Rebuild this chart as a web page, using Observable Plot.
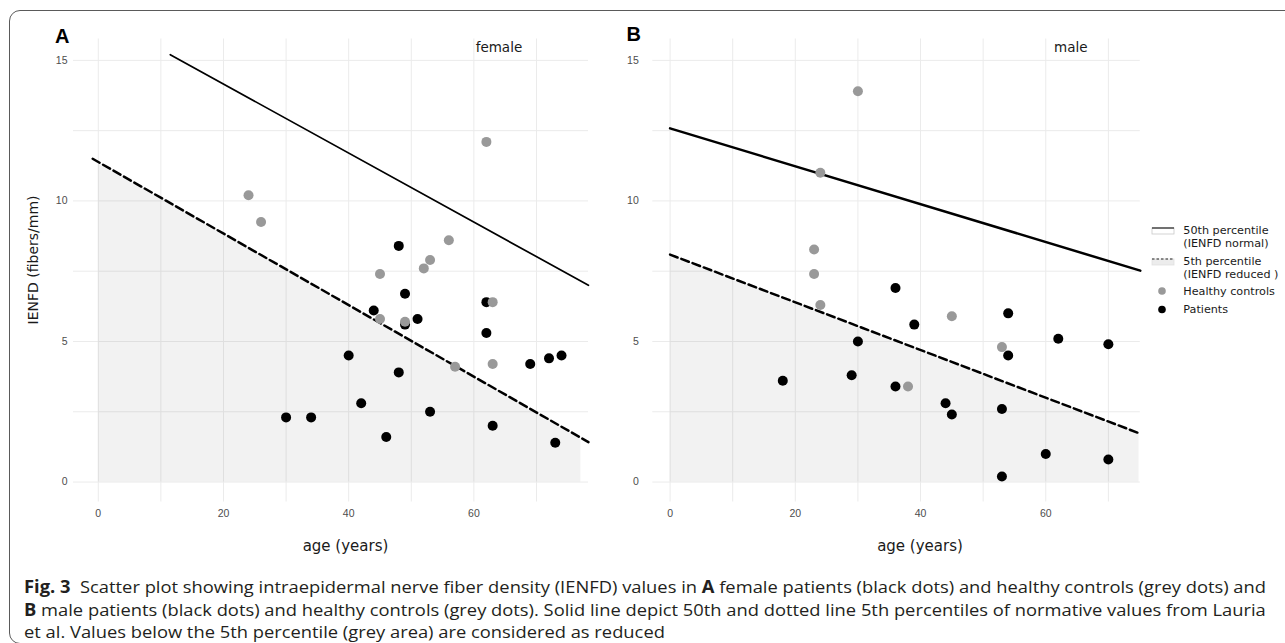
<!DOCTYPE html>
<html><head><meta charset="utf-8">
<script src="https://cdn.jsdelivr.net/npm/d3@7"></script>
<script src="https://cdn.jsdelivr.net/npm/@observablehq/plot@0.6"></script>
<style>
body{margin:0;background:#fff;width:1285px;height:643px;overflow:hidden;position:relative;}
#frame{position:absolute;left:9px;top:10px;width:1300px;height:634px;border:1.5px solid #5a5a5a;border-radius:11px;box-sizing:border-box;}
.abs{position:absolute;}
.cap{position:absolute;left:24px;white-space:nowrap;font-family:"Open Sans","Noto Sans",sans-serif;font-size:17px;color:#231f20;transform-origin:0 50%;line-height:20px;}
.cap b{font-weight:700;}
#overlay{position:absolute;left:0;top:0;pointer-events:none;}
</style></head><body>
<div id="frame"></div>
<div id="panelA" class="abs" style="left:0;top:0"></div>
<div id="panelB" class="abs" style="left:600px;top:0"></div>
<svg id="overlay" width="1285" height="643"></svg>
<div class="cap" id="cap1" style="top:577px"><b>Fig. 3</b>&nbsp; Scatter plot showing intraepidermal nerve fiber density (IENFD) values in <b>A</b> female patients (black dots) and healthy controls (grey dots) and</div>
<div class="cap" id="cap2" style="top:600px"><b>B</b> male patients (black dots) and healthy controls (grey dots). Solid line depict 50th and dotted line 5th percentiles of normative values from Lauria</div>
<div class="cap" id="cap3" style="top:622px">et al. Values below the 5th percentile (grey area) are considered as reduced</div>
<script>
// ---------- data ----------
const femalePatientsAge   = [48, 49, 62, 44, 51, 49, 62, 40, 69, 72, 74, 48, 42, 30, 34, 53, 46, 63, 73];
const femalePatientsIENFD = [8.4, 6.7, 6.4, 6.1, 5.8, 5.6, 5.3, 4.5, 4.2, 4.4, 4.5, 3.9, 2.8, 2.3, 2.3, 2.5, 1.6, 2.0, 1.4];
const femaleControlsAge   = [24, 26, 62, 56, 53, 52, 45, 63, 45, 49, 57, 63];
const femaleControlsIENFD = [10.2, 9.25, 12.1, 8.6, 7.9, 7.6, 7.4, 6.4, 5.8, 5.7, 4.1, 4.2];
const malePatientsAge     = [36, 54, 39, 30, 62, 70, 54, 18, 29, 36, 44, 45, 53, 60, 70, 53];
const malePatientsIENFD   = [6.9, 6.0, 5.6, 5.0, 5.1, 4.9, 4.5, 3.6, 3.8, 3.4, 2.8, 2.4, 2.6, 1.0, 0.8, 0.2];
const maleControlsAge     = [30, 24, 23, 23, 24, 45, 53, 38];
const maleControlsIENFD   = [13.9, 11.0, 8.27, 7.4, 6.3, 5.9, 4.8, 3.4];

// normative percentile lines (endpoints)
const p50FemaleAge = [11.5, 78.3],  p50FemaleIENFD = [15.2, 7.0];
const p5FemaleAge  = [-0.9, 78.3],  p5FemaleIENFD  = [11.5, 1.42];
const reducedFemaleAge = [0, 77.1], reducedFemaleIENFD = [11.38, 1.58];
const p50MaleAge = [0, 75.1],       p50MaleIENFD = [12.58, 7.52];
const p5MaleAge  = [0, 75.1],       p5MaleIENFD  = [8.09, 1.72];
const reducedMaleAge = [0, 74.9],   reducedMaleIENFD = [8.09, 1.74];

const xTicks = [0, 20, 40, 60];
const xGrid  = [0, 10, 20, 30, 40, 50, 60, 70];
const yTicks = [0, 5, 10, 15];
const yGrid  = [0, 2.5, 5, 7.5, 10, 12.5, 15];
const panelLabels = ["A", "B"];
const sexLabels = ["female", "male"];
const legendLabels = [["50th percentile", "(IENFD normal)"], ["5th percentile", "(IENFD reduced )"], ["Healthy controls"], ["Patients"]];
const xTitle = "age (years)";
const yTitle = "IENFD (fibers/mm)";

const zip = (a, b) => a.map((v, i) => ({age: v, v: b[i]}));

function panel({width, mL, mR, xDomain, yPad, patients, controls, p50, p5, shade, label, p50Width}) {
  return Plot.plot({
    width, height: 530,
    marginLeft: mL, marginRight: mR, marginTop: 38.5, marginBottom: 28.5,
    x: {domain: xDomain, ticks: xTicks, tickSize: 0, tickPadding: 8, label: null},
    y: {domain: [-0.71, 15.76], ticks: yTicks, tickSize: 0, tickPadding: yPad, label: null},
    style: {fontFamily: "'Liberation Sans', Arial, sans-serif", fontSize: "10.5px", color: "#4d4d4d", background: "transparent", overflow: "visible"},
    marks: [
      Plot.ruleX(xGrid, {stroke: "#ebebeb", strokeWidth: 1}),
      Plot.ruleY(yGrid, {stroke: "#ebebeb", strokeWidth: 1}),
      Plot.areaY(shade, {x: "age", y: "v", fill: "#000", fillOpacity: 0.05}),
      Plot.line(p5, {x: "age", y: "v", stroke: "#000", strokeWidth: 2.5, strokeDasharray: "8,4"}),
      Plot.line(p50, {x: "age", y: "v", stroke: "#000", strokeWidth: p50Width}),
      Plot.dot(patients, {x: "age", y: "v", r: 5, fill: "#000"}),
      Plot.dot(controls, {x: "age", y: "v", r: 5, fill: "#999999"}),
      Plot.text([label], {x: 64, y: 15.45, text: d => d, fontSize: 13.5, fontFamily: "DejaVu Sans", fill: "#1a1a1a"})
    ]
  });
}

document.getElementById("panelA").appendChild(panel({
  width: 600, mL: 73, mR: 12, xDomain: [-3.96, 78.31], yPad: 6,
  patients: zip(femalePatientsAge, femalePatientsIENFD),
  controls: zip(femaleControlsAge, femaleControlsIENFD),
  p50: zip(p50FemaleAge, p50FemaleIENFD), p5: zip(p5FemaleAge, p5FemaleIENFD),
  shade: zip(reducedFemaleAge, reducedFemaleIENFD), label: sexLabels[0], p50Width: 1.7
}));
document.getElementById("panelB").appendChild(panel({
  width: 560, mL: 52.3, mR: 20.2, xDomain: [-2.76, 75.1], yPad: 14,
  patients: zip(malePatientsAge, malePatientsIENFD),
  controls: zip(maleControlsAge, maleControlsIENFD),
  p50: zip(p50MaleAge, p50MaleIENFD), p5: zip(p5MaleAge, p5MaleIENFD),
  shade: zip(reducedMaleAge, reducedMaleIENFD), label: sexLabels[1], p50Width: 2.5
}));

// ---------- overlay texts & legend ----------
const ov = d3.select("#overlay");
ov.append("text").attr("x", 55).attr("y", 42.5).text(panelLabels[0])
  .style("font", "bold 20px 'Liberation Sans', Arial, sans-serif").attr("fill", "#000");
ov.append("text").attr("x", 626.5).attr("y", 41).text(panelLabels[1])
  .style("font", "bold 20px 'Liberation Sans', Arial, sans-serif").attr("fill", "#000");
[345.5, 920].forEach(cx => ov.append("text").attr("x", cx).attr("y", 551).attr("text-anchor", "middle")
  .text(xTitle).style("font", "15px 'DejaVu Sans', sans-serif").attr("fill", "#1a1a1a"));
ov.append("text").attr("transform", "translate(38,260) rotate(-90)").attr("text-anchor", "middle")
  .text(yTitle).style("font", "14px 'DejaVu Sans', sans-serif").attr("fill", "#1a1a1a");

const lg = ov.append("g").style("font", "11.2px 'DejaVu Sans', sans-serif").attr("fill", "#1a1a1a");
lg.append("rect").attr("x", 1152).attr("y", 228).attr("width", 22).attr("height", 6).attr("fill", "#fff").attr("stroke", "#c8c8c8").attr("stroke-width", 0.8);
lg.append("line").attr("x1", 1152).attr("x2", 1174).attr("y1", 228).attr("y2", 228).attr("stroke", "#222").attr("stroke-width", 1.2);
lg.append("rect").attr("x", 1152).attr("y", 259).attr("width", 22).attr("height", 6).attr("fill", "#ececec").attr("stroke", "#e0e0e0").attr("stroke-width", 0.8);
lg.append("line").attr("x1", 1152).attr("x2", 1174).attr("y1", 259).attr("y2", 259).attr("stroke", "#222").attr("stroke-width", 1.2).attr("stroke-dasharray", "2.5,2");
lg.append("circle").attr("cx", 1162).attr("cy", 291).attr("r", 3.8).attr("fill", "#999999");
lg.append("circle").attr("cx", 1162).attr("cy", 309.5).attr("r", 3.8).attr("fill", "#000");
const lx = 1183.3;
[[legendLabels[0][0], 234], [legendLabels[0][1], 247.3], [legendLabels[1][0], 264.5], [legendLabels[1][1], 278.3],
 [legendLabels[2][0], 295], [legendLabels[3][0], 313.3]].forEach(([t, y]) =>
  lg.append("text").attr("x", lx).attr("y", y).text(t));

// ---------- caption: uniform horizontal fit ----------
const els = ["cap1", "cap2", "cap3"].map(id => document.getElementById(id));
const sc = 1242 / els[0].getBoundingClientRect().width;
els.forEach(e => e.style.transform = `scaleX(${sc})`);
</script>
</body></html>
